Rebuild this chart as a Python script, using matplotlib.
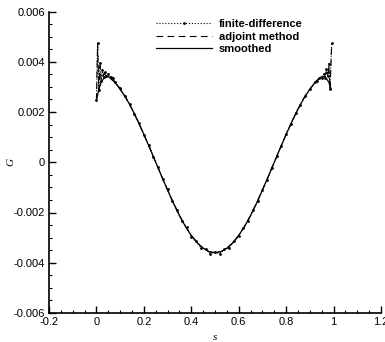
import matplotlib
matplotlib.use("Agg")
import matplotlib.pyplot as plt
from matplotlib.ticker import MultipleLocator, FuncFormatter

# finite-difference gradient (noisy, spikes at the ends)
fd_s = [0.0, 0.005, 0.01, 0.015, 0.02, 0.025, 0.03, 0.035, 0.04, 0.05, 0.06, 0.07, 0.08,
        0.10, 0.12, 0.14, 0.16, 0.18, 0.20, 0.22, 0.24, 0.26, 0.28, 0.30, 0.32, 0.34,
        0.36, 0.38, 0.40, 0.42, 0.44, 0.46, 0.48, 0.50, 0.52, 0.54, 0.56, 0.58, 0.60,
        0.62, 0.64, 0.66, 0.68, 0.70, 0.72, 0.74, 0.76, 0.78, 0.80, 0.82, 0.84, 0.86,
        0.88, 0.90, 0.92, 0.93, 0.94, 0.95, 0.96, 0.965, 0.97, 0.975, 0.98, 0.985, 0.992]
fd_G = [0.00247, 0.00476, 0.00287, 0.00396, 0.00322, 0.00368, 0.00338, 0.00360, 0.00345,
        0.00352, 0.00338, 0.00334, 0.00318, 0.00296, 0.00263, 0.00232, 0.00192, 0.00156,
        0.00110, 0.00070, 0.00022, -0.00020, -0.00068, -0.00108, -0.00155, -0.00190,
        -0.00233, -0.00259, -0.00296, -0.00312, -0.00341, -0.00346, -0.00364, -0.00358,
        -0.00365, -0.00347, -0.00340, -0.00313, -0.00295, -0.00260, -0.00232, -0.00191,
        -0.00156, -0.00109, -0.00069, -0.00021, 0.00024, 0.00066, 0.00113, 0.00152,
        0.00195, 0.00228, 0.00264, 0.00290, 0.00318, 0.00324, 0.00337, 0.00336, 0.00352,
        0.00335, 0.00372, 0.00345, 0.00392, 0.00290, 0.00476]

# adjoint gradient
adj_s = [0.0, 0.005, 0.01, 0.015, 0.02, 0.03, 0.04, 0.05, 0.075, 0.1, 0.125, 0.15, 0.175,
         0.2, 0.225, 0.25, 0.275, 0.3, 0.325, 0.35, 0.375, 0.4, 0.425, 0.45, 0.475, 0.5,
         0.525, 0.55, 0.575, 0.6, 0.625, 0.65, 0.675, 0.7, 0.725, 0.75, 0.775, 0.8, 0.825,
         0.85, 0.875, 0.9, 0.925, 0.95, 0.96, 0.97, 0.975, 0.98, 0.985, 0.992]
adj_G = [0.00247, 0.00470, 0.00290, 0.00385, 0.00325, 0.00352, 0.00346, 0.00343, 0.00321,
         0.00291, 0.00255, 0.00212, 0.00163, 0.00111, 0.00056, 0.0, -0.00056, -0.00111,
         -0.00163, -0.00212, -0.00255, -0.00291, -0.00321, -0.00342, -0.00356, -0.00360,
         -0.00356, -0.00342, -0.00321, -0.00291, -0.00255, -0.00212, -0.00163, -0.00111,
         -0.00056, 0.0, 0.00056, 0.00111, 0.00163, 0.00212, 0.00255, 0.00291, 0.00321,
         0.00343, 0.00346, 0.00360, 0.00340, 0.00385, 0.00292, 0.00470]

# smoothed gradient
sm_s = [0.0, 0.01, 0.02, 0.03, 0.04, 0.05, 0.075, 0.1, 0.125, 0.15, 0.175, 0.2, 0.225,
        0.25, 0.275, 0.3, 0.325, 0.35, 0.375, 0.4, 0.425, 0.45, 0.475, 0.5, 0.525, 0.55,
        0.575, 0.6, 0.625, 0.65, 0.675, 0.7, 0.725, 0.75, 0.775, 0.8, 0.825, 0.85, 0.875,
        0.9, 0.925, 0.95, 0.96, 0.97, 0.98, 0.99]
sm_G = [0.00245, 0.00290, 0.00318, 0.00333, 0.00340, 0.00341, 0.00321, 0.00291, 0.00255,
        0.00212, 0.00163, 0.00111, 0.00056, 0.0, -0.00056, -0.00111, -0.00163, -0.00212,
        -0.00255, -0.00291, -0.00321, -0.00342, -0.00356, -0.00360, -0.00356, -0.00342,
        -0.00321, -0.00291, -0.00255, -0.00212, -0.00163, -0.00111, -0.00056, 0.0, 0.00056,
        0.00111, 0.00163, 0.00212, 0.00255, 0.00291, 0.00321, 0.00341, 0.00340, 0.00333,
        0.00318, 0.00290]

fig = plt.figure(figsize=(3.85, 3.42), dpi=100)
ax = fig.add_axes([49 / 385, 1 - 313 / 342, 332 / 385, 301.5 / 342])

ax.plot(fd_s, fd_G, color="black", linestyle=":", linewidth=0.8, marker="o",
        markersize=1.0, label="finite-difference")
ax.plot(adj_s, adj_G, color="black", linestyle=(0, (6, 4)), linewidth=0.8,
        label="adjoint method")
ax.plot(sm_s, sm_G, color="black", linestyle="-", linewidth=0.9, label="smoothed")

ax.set_xlim(-0.2, 1.2)
ax.set_ylim(-0.006, 0.006)
ax.spines["top"].set_visible(False)
ax.spines["right"].set_visible(False)
for sp in ("left", "bottom"):
    ax.spines[sp].set_linewidth(1.2)

ax.xaxis.set_major_locator(MultipleLocator(0.2))
ax.xaxis.set_minor_locator(MultipleLocator(0.05))
ax.yaxis.set_major_locator(MultipleLocator(0.002))
ax.yaxis.set_minor_locator(MultipleLocator(0.0005))
fmt = FuncFormatter(lambda v, p: "%g" % round(v, 6))
ax.xaxis.set_major_formatter(fmt)
ax.yaxis.set_major_formatter(fmt)
ax.tick_params(which="major", direction="in", length=5, width=1.0,
               labelsize=8, pad=3)
ax.tick_params(which="minor", direction="in", length=2.5, width=0.8)
for lab in ax.get_xticklabels() + ax.get_yticklabels():
    lab.set_family("Liberation Sans")

ax.set_xlabel("s", family="Liberation Serif", style="italic", fontsize=8)
ax.set_ylabel("G", family="Liberation Serif", style="italic", fontsize=8)
ax.xaxis.set_label_coords(0.5, -0.065)
ax.yaxis.set_label_coords(-0.1, 0.5)

ax.legend(loc="upper left", bbox_to_anchor=(0.3, 1.0), frameon=False, numpoints=1,
          handlelength=5.0, handletextpad=0.6, labelspacing=0.2, borderpad=0.2,
          prop={"family": "Liberation Sans", "weight": "bold", "size": 8})

fig.savefig("out.png", dpi=100)
